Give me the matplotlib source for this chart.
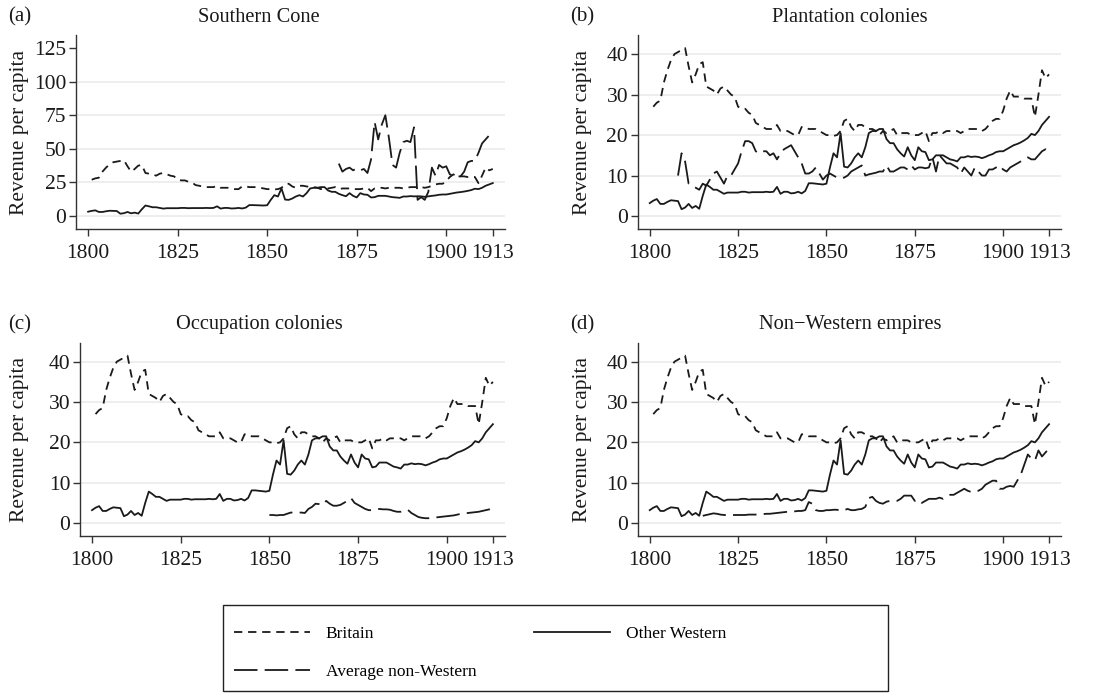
import numpy as np
import matplotlib.pyplot as plt
from matplotlib.patches import Rectangle

plt.rcParams['font.family'] = ['Liberation Serif', 'DejaVu Serif']
plt.rcParams['font.size'] = 14

years = np.arange(1800, 1914)

# Britain, 1800-1913 (1800 missing)
britain = [np.nan, 27, 28, 28.5, 33, 36, 38.5, 40, 40.5, 41, 41.5, 37, 33, 35, 37.5, 38,
           32, 31.5, 31, 30, 31.5, 32, 31, 30, 29.5, 27, 26.5, 26.5, 25.5, 25,
           23, 22.5, 22, 21.5, 21.5, 21.5, 22.5, 21, 21, 21, 20.5, 20, 20, 22, 22,
           21.5, 21.5, 21.5, 21, 20.5, 20, 20, 19.8, 20, 21, 23.5, 24, 22, 21, 22.5,
           22.5, 22, 21.5, 21.5, 21, 20, 21, 20.5, 21, 21.5, 20, 20.5, 20.5, 20.5, 20,
           20, 20, 20.5, 21, 18.5, 20.5, 20.5, 21, 20.5, 21, 21, 21, 21, 20.5, 21,
           21.5, 21.5, 21.5, 21.5, 21, 21.5, 22.5, 23.5, 24, 24, 26, 29, 31, 29.5, 29.5,
           29.5, 29, 29, 29, 24.5, 30, 36, 34, 35]

# Other Western, 1800-1913
other_western = [3.2, 3.8, 4.2, 3, 3, 3.5, 3.9, 3.8, 3.7, 1.7, 2.1, 3, 2, 2.5, 1.8, 5,
                 7.8, 7.2, 6.5, 6.5, 6, 5.5, 5.8, 5.8, 5.8, 5.8, 6, 6, 5.8, 5.9,
                 5.9, 5.9, 5.9, 6, 5.9, 6, 7.2, 5.5, 6, 6, 5.6, 5.7, 6, 5.6, 6.2,
                 8.1, 8.1, 8, 7.9, 7.8, 8, 12, 15.5, 14.5, 20.5, 12.2, 12, 13, 14.5, 15.5,
                 14.5, 17, 20.5, 21, 21, 21.5, 21.5, 19, 18, 18, 16.5, 15.5, 14.7, 17, 15,
                 13.8, 17, 16, 15.8, 13.8, 14, 15, 15, 15, 14.5, 14, 13.8, 13.5, 14.5, 14.5,
                 14.8, 14.6, 14.7, 14.6, 14.3, 14.6, 15, 15.3, 15.8, 16, 16, 16.5, 17, 17.5,
                 17.8, 18.2, 18.7, 19.3, 20.3, 20, 21, 22.5, 23.5, 24.5]

# Average non-Western by group (year, value)
cone_years = np.arange(1870, 1914)
cone_vals = [39, 33, 35, 36, 34, 35.5, 34, 35, 32, 42, 70, 57, 68, 75, 58, 38, 36, 47,
             55, 56, 55, 66, 12, 14, 12, 18, 36, 30, 38, 36, 37, 31, 30, 29.5, 29.5,
             33, 40, 41, 41, 47, 54, 57, 60, 63]

plant_years = np.arange(1808, 1914)
plant_vals = [10, 15.5, 13.5, 8, 7.5, 7, 6.5, 8, 7.5, 9, 10.5, 11, 9.5, 8, 10, 10,
              11.5, 13, 16, 18.5, 18.5, 18, 16, 15.5, 16, 16, 15, 15.5, 14, 15.5, 16.5,
              17, 17.5, 16, 14.5, 13, 10.5, 10.5, 11, 12, 10.5, 9, 10, 10.5, 10, 9.5,
              9.3, 9.5, 10, 11, 11.5, 12, 12.5, 10, 10.3, 10.5, 10.7, 11, 11, 12.5, 11,
              11, 11.5, 12, 12, 11.5, 12.5, 11.5, 12, 12, 11.8, 12, 14.5, 11, 15, 14,
              13, 13, 12.5, 12, 10.5, 12, 11, 10, 12, 11, 10, 10, 11.5, 11.5, 12, 12.5,
              11.5, 11, 12, 12.5, 13, 13.5, 14, 14.5, 14, 14, 15, 16, 16.5, 15.5]

occ_years = np.arange(1850, 1914)
occ_vals = [2, 2, 1.9, 2, 2, 2.3, 2.6, 2.6, 2.6, 2.6, 2.5, 3.5, 4, 4.8, 4.7, 4.5, 5.5,
            4.8, 4.3, 4.3, 4.5, 5, 5.5, 6.2, 5, 4.5, 4, 3.5, 3.2, 3.2, 3.4, 3.5, 3.4,
            3.4, 3.3, 3, 2.8, 2.8, 3, 3.3, 2.5, 2, 1.5, 1.3, 1.2, 1.2, 1.3, 1.4, 1.5,
            1.6, 1.7, 1.8, 1.9, 2.1, 2.3, 2.4, 2.5, 2.6, 2.7, 2.8, 3, 3.2, 3.4, 3.7]

emp_years = np.arange(1815, 1914)
emp_vals = [1.8, 2, 2.2, 2.4, 2.3, 2.1, 2, 2, 2, 2, 2, 2, 2, 2.1, 2.1, 2.1, 2.2, 2.2,
            2.3, 2.3, 2.4, 2.5, 2.6, 2.7, 2.8, 2.8, 2.9, 3, 3, 3.2, 5.2, 4.8, 3.2, 3,
            3, 3.2, 3.2, 3.3, 3.3, 3, 3.2, 3.5, 3.2, 3.2, 3.4, 3.5, 4, 6.2, 6.5, 5.5,
            5, 4.8, 5.3, 5.5, 5.5, 5.5, 6, 6.8, 6.8, 6.8, 5.5, 5.8, 5, 5.5, 6, 6, 6,
            6.3, 6, 6.5, 7, 7, 7.5, 8, 8.5, 8, 7.7, 8, 8, 8.5, 9.5, 10, 10.5, 10.5,
            8.5, 8.5, 9, 9.2, 9, 10.5, 12, 14.5, 17, 16, 15.5, 18, 16.5, 17.5, 18.5]

panels = [
    ('(a)', 'Southern Cone', cone_years, cone_vals, [0, 25, 50, 75, 100, 125], (-9.7, 134.7)),
    ('(b)', 'Plantation colonies', plant_years, plant_vals, [0, 10, 20, 30, 40], (-3.2, 44.7)),
    ('(c)', 'Occupation colonies', occ_years, occ_vals, [0, 10, 20, 30, 40], (-3.2, 44.7)),
    ('(d)', 'Non\u2212Western empires', emp_years, emp_vals, [0, 10, 20, 30, 40], (-3.2, 44.7)),
]

# axes rectangles in figure fractions
rects = [
    [0.0683, 0.670, 0.3858, 0.2795],
    [0.5735, 0.670, 0.3807, 0.2795],
    [0.0719, 0.2277, 0.3822, 0.2785],
    [0.5735, 0.2277, 0.3807, 0.2785],
]
title_x = [259, 850, 259, 850]
label_x = [8, 570, 8, 570]
title_y = [17, 17, 325, 325]
ylab_x = [20, 582, 20, 582]

W, H = 1112, 694
fig = plt.figure(figsize=(W / 100, H / 100), dpi=100)
ink = '#1a1a1a'
lw = 1.3

for i, (tag, title, ny, nv, yt, ylim) in enumerate(panels):
    ax = fig.add_axes(rects[i])
    for v in yt:
        if v != 125:
            ax.axhline(v, color='#ebebeb', lw=1.2, zorder=0)
    l1, = ax.plot(years, britain, color=ink, lw=lw, dashes=(4.6, 3.2))
    l2, = ax.plot(years, other_western, color=ink, lw=lw)
    l3, = ax.plot(ny, nv, color=ink, lw=lw, dashes=(13, 4))
    ax.set_xlim(1796.6, 1916.4)
    ax.set_ylim(*ylim)
    ax.set_xticks([1800, 1825, 1850, 1875, 1900, 1913])
    ax.set_yticks(yt)
    for s in ['top', 'right']:
        ax.spines[s].set_visible(False)
    for s in ['left', 'bottom']:
        ax.spines[s].set_color('#333333')
        ax.spines[s].set_linewidth(1.0)
    ax.tick_params(direction='out', length=5, width=1.0, color='#333333',
                   labelsize=15.5, labelcolor=ink)
    ax.tick_params(axis='x', pad=6)
    ax.tick_params(axis='y', pad=2)
    fig.text(ylab_x[i] / W, (rects[i][1] + rects[i][3] / 2), 'Revenue per capita',
             rotation=90, ha='center', va='center', fontsize=15.5, color=ink)
    fig.text(title_x[i] / W, 1 - title_y[i] / H, title, ha='center', va='center',
             fontsize=14.7, color=ink)
    fig.text(label_x[i] / W, 1 - title_y[i] / H, tag, ha='left', va='center',
             fontsize=15, color=ink)

# legend box
fig.patches.append(Rectangle((223 / W, 1 - 691 / H), (888 - 223) / W, (691 - 605) / H,
                             transform=fig.transFigure, fill=False,
                             edgecolor='#222222', lw=1.0))
fig.legend([l1, l3, l2], ['Britain', 'Average non-Western', 'Other Western'],
           ncol=2, frameon=False, loc='upper left',
           bbox_to_anchor=(218 / W, 1 - 610 / H), handlelength=4.4,
           columnspacing=3.3, labelspacing=1.25, handletextpad=0.9, fontsize=12.5)

fig.savefig('out.png', dpi=100)
